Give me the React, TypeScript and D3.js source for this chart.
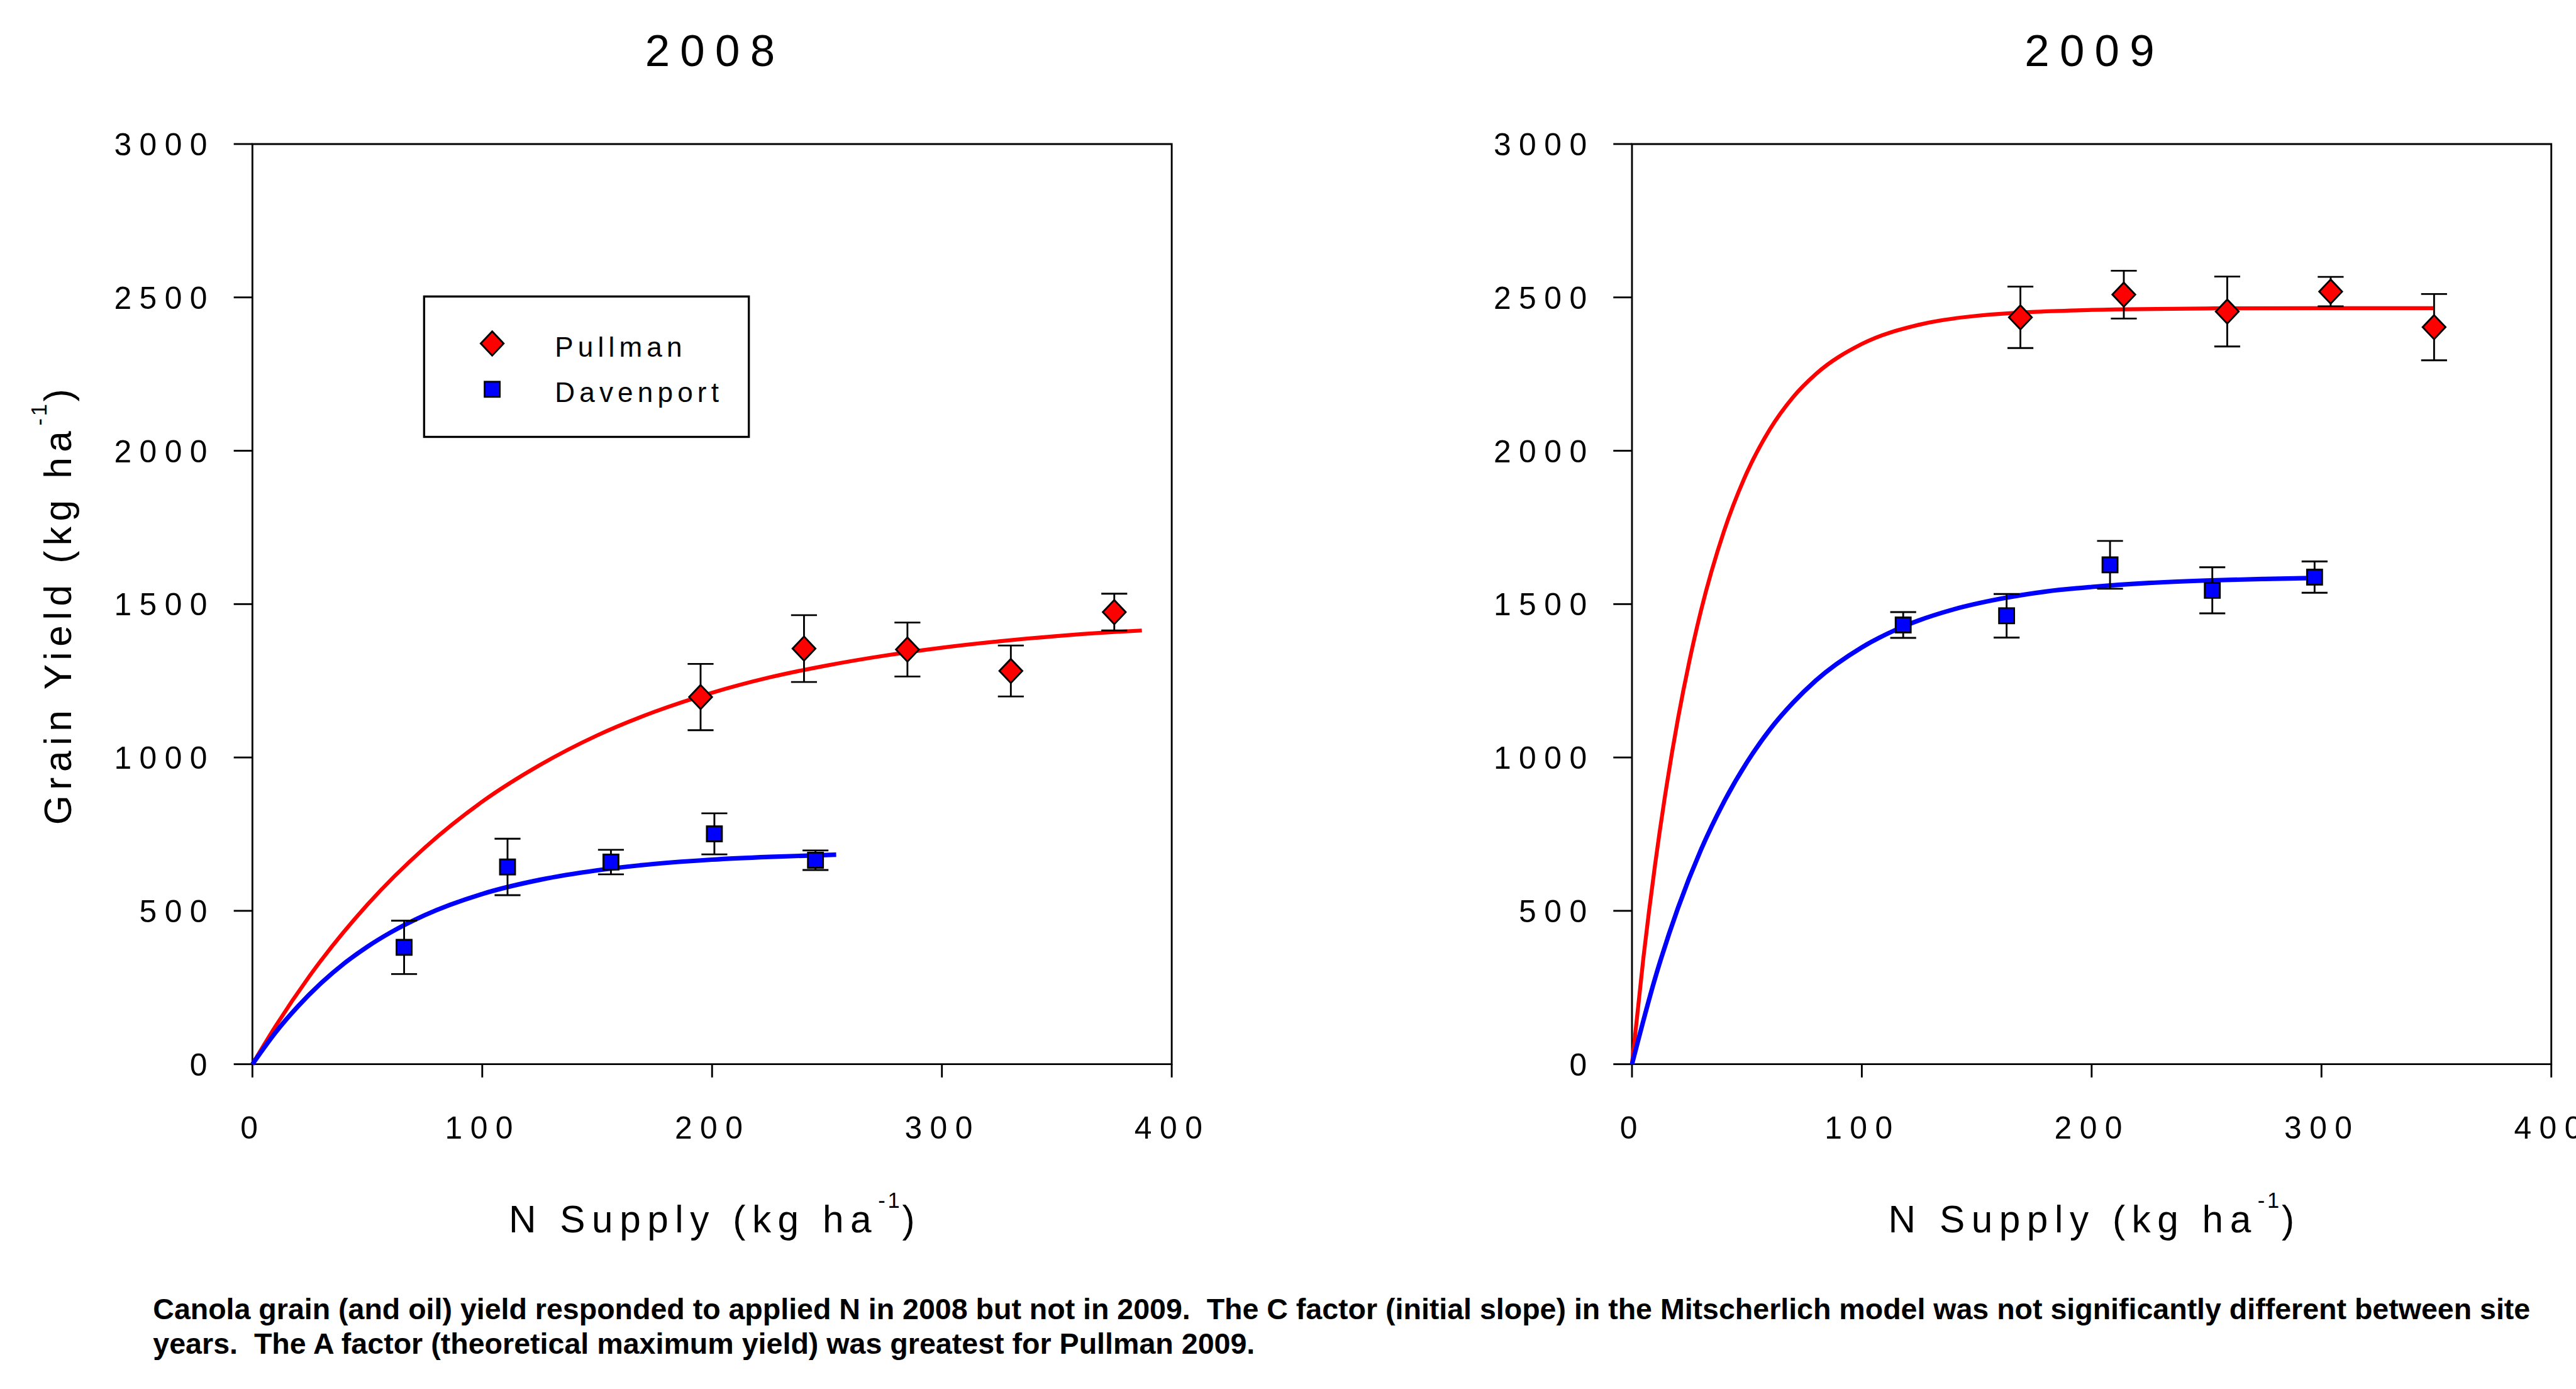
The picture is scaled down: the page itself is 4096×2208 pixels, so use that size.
import React from 'react';
import * as d3 from 'd3';

// reference canvas size; the viewBox shrinks it into the 4096x2208 window
const W = 4276;
const H = 2305;

const xTicks = [0, 100, 200, 300, 400];
const yTicks = [0, 500, 1000, 1500, 2000, 2500, 3000];

const years = ['2008', '2009'];
const siteNames = ['Pullman', 'Davenport'];
const siteColors = ['#ff0000', '#0000ff'];

// 2008 means (kg/ha) with error bar half-widths
const pull08N = [195, 240, 285, 330, 375];
const pull08Y = [1197, 1355, 1352, 1282, 1474];
const pull08E = [108, 109, 88, 83, 60];
const dav08N = [66, 111, 156, 201, 245];
const dav08Y = [381, 643, 659, 751, 665];
const dav08E = [87, 92, 40, 67, 32];

// 2009 means
const pull09N = [169, 214, 259, 304, 349];
const pull09Y = [2435, 2509, 2454, 2519, 2403];
const pull09E = [100, 78, 114, 48, 108];
const dav09N = [118, 163, 208, 252.5, 297];
const dav09Y = [1432, 1462, 1628, 1545, 1588];
const dav09E = [42, 71, 78, 75, 51];

// fitted (Mitscherlich) curves
const pullFit08N = [0, 10, 25, 50, 75, 100, 125, 150, 175, 200, 225, 250, 275, 300, 325, 350, 375, 387];
const pullFit08Y = [0, 123, 289, 520, 706, 856, 975, 1072, 1149, 1211, 1261, 1300, 1332, 1358, 1379, 1396, 1409, 1414];
const davFit08N = [0, 10, 20, 30, 40, 50, 60, 75, 100, 125, 150, 175, 200, 225, 254];
const davFit08Y = [0, 103, 190, 265, 329, 383, 429, 486, 555, 601, 632, 653, 667, 676, 683];
const pullFit09N = [0, 5, 10, 15, 20, 25, 30, 40, 50, 60, 70, 80, 100, 125, 150, 200, 250, 300, 349];
const pullFit09Y = [0, 349, 648, 905, 1126, 1315, 1478, 1737, 1929, 2070, 2174, 2250, 2348, 2411, 2440, 2459, 2464, 2465, 2465];
const davFit09N = [0, 10, 20, 30, 40, 50, 60, 70, 80, 100, 120, 140, 160, 180, 200, 225, 250, 275, 297];
const davFit09Y = [0, 279, 509, 699, 855, 984, 1091, 1178, 1251, 1359, 1433, 1483, 1517, 1541, 1556, 1569, 1577, 1582, 1585];

const captionLines = [
    'Canola grain (and oil) yield responded to applied N in 2008 but not in 2009.  The C factor (initial slope) in the Mitscherlich model was not significantly different between site',
    'years.  The A factor (theoretical maximum yield) was greatest for Pullman 2009.',
];

const FONT = "'Liberation Sans', Arial, Helvetica, sans-serif";

const plotTop = 239;
const plotBottom = 1766;
const plotWidth = 1526;
const panelLeft = [419, 2709];

const makeSeries = (i, n, y, e, fitN, fitY, width) => ({
    name: siteNames[i],
    color: siteColors[i],
    shape: i === 0 ? 'diamond' : 'square',
    points: d3.zip(n, y, e),
    fit: d3.zip(fitN, fitY),
    width,
});

const panels = [
    [
        makeSeries(0, pull08N, pull08Y, pull08E, pullFit08N, pullFit08Y, 6.5),
        makeSeries(1, dav08N, dav08Y, dav08E, davFit08N, davFit08Y, 7.5),
    ],
    [
        makeSeries(0, pull09N, pull09Y, pull09E, pullFit09N, pullFit09Y, 6.5),
        makeSeries(1, dav09N, dav09Y, dav09E, davFit09N, davFit09Y, 7.5),
    ],
];

function Marker({shape, cx, cy, color}) {
    if (shape === 'diamond') {
        return <path d={`M${cx},${cy - 20}L${cx + 19},${cy}L${cx},${cy + 20}L${cx - 19},${cy}Z`}
                     fill={color} stroke="#000" strokeWidth={3} strokeLinejoin="miter"/>;
    }
    return <rect x={cx - 12.5} y={cy - 12.5} width={25} height={25}
                 fill={color} stroke="#000" strokeWidth={3}/>;
}

function Panel({left, title, series, legend}) {
    const x = d3.scaleLinear().domain([0, 400]).range([left, left + plotWidth]);
    const y = d3.scaleLinear().domain([0, 3000]).range([plotBottom, plotTop]);
    const mid = left + plotWidth / 2;

    const line = d3.line()
        .x(d => x(d[0]))
        .y(d => y(d[1]))
        .curve(d3.curveMonotoneX);

    return (
        <g>
            <text x={mid + 5} y={110} textAnchor="middle" fontSize={74} letterSpacing={17}
                  fontFamily={FONT}>{title}</text>

            {/* frame */}
            <path d={`M${left},${plotTop}H${left + plotWidth}V${plotBottom}H${left}Z`}
                  fill="none" stroke="#000" strokeWidth={3}/>

            {yTicks.map(t => (
                <g key={'y' + t}>
                    <line x1={left - 31} x2={left} y1={y(t)} y2={y(t)} stroke="#000" strokeWidth={3}/>
                    <text x={left - 62} y={y(t) + 19} textAnchor="end" fontSize={52}
                          letterSpacing={13} fontFamily={FONT}>{t}</text>
                </g>
            ))}
            {xTicks.map(t => (
                <g key={'x' + t}>
                    <line x1={x(t)} x2={x(t)} y1={plotBottom} y2={plotBottom + 22} stroke="#000" strokeWidth={3}/>
                    <text x={x(t) + 1} y={1890} textAnchor="middle" fontSize={52}
                          letterSpacing={13} fontFamily={FONT}>{t}</text>
                </g>
            ))}

            <text x={mid + 5} y={2045} textAnchor="middle" fontSize={63} letterSpacing={11}
                  fontFamily={FONT} style={{whiteSpace: 'pre'}}>
                N Supply (kg ha<tspan fontSize={36} dy={-41} letterSpacing={4}>-1</tspan>
                <tspan dy={41}>)</tspan>
            </text>

            {series.map(s => (
                <path key={s.name + 'fit'} d={line(s.fit)} fill="none" stroke={s.color}
                      strokeWidth={s.width}/>
            ))}

            {series.map(s => s.points.map(([n, v, e], i) => (
                <g key={s.name + 'e' + i} stroke="#000" strokeWidth={3}>
                    <line x1={x(n)} x2={x(n)} y1={y(v - e)} y2={y(v + e)}/>
                    <line x1={x(n) - 21.5} x2={x(n) + 21.5} y1={y(v - e)} y2={y(v - e)}/>
                    <line x1={x(n) - 21.5} x2={x(n) + 21.5} y1={y(v + e)} y2={y(v + e)}/>
                </g>
            )))}

            {series.map(s => s.points.map(([n, v], i) => (
                <Marker key={s.name + 'm' + i} shape={s.shape} cx={x(n)} cy={y(v)} color={s.color}/>
            )))}

            {legend && (
                <g>
                    <rect x={704} y={492} width={539} height={233} fill="#fff" stroke="#000" strokeWidth={3.5}/>
                    {series.map((s, i) => (
                        <g key={s.name + 'leg'}>
                            <Marker shape={s.shape} cx={817} cy={570 + i * 76} color={s.color}/>
                            <text x={921} y={592 + i * 75} fontSize={46} letterSpacing={7.5}
                                  fontFamily={FONT}>{s.name}</text>
                        </g>
                    ))}
                </g>
            )}
        </g>
    );
}

export default function App() {
    const yMid = (plotTop + plotBottom) / 2;
    return (
        <svg width={4096} height={2208} viewBox={`0 0 ${W} ${H}`}
             style={{position: 'absolute', left: 0, top: 0, display: 'block'}}>
            <rect x={0} y={0} width={W} height={H} fill="#fff"/>

            {panels.map((series, i) => (
                <Panel key={years[i]} left={panelLeft[i]} title={years[i]} series={series} legend={i === 0}/>
            ))}

            <text transform={`translate(118, ${yMid}) rotate(-90)`} textAnchor="middle" fontSize={63}
                  letterSpacing={9} fontFamily={FONT} style={{whiteSpace: 'pre'}}>
                Grain Yield (kg ha<tspan fontSize={36} dy={-41} letterSpacing={4}>-1</tspan>
                <tspan dy={41}>)</tspan>
            </text>

            {captionLines.map((t, i) => (
                <text key={i} x={254} y={2189 + i * 58} fontSize={48} fontWeight="bold"
                      fontFamily={FONT} style={{whiteSpace: 'pre'}}
                      textLength={i === 0 ? 3946 : 1829} lengthAdjust="spacingAndGlyphs">{t}</text>
            ))}
        </svg>
    );
}
